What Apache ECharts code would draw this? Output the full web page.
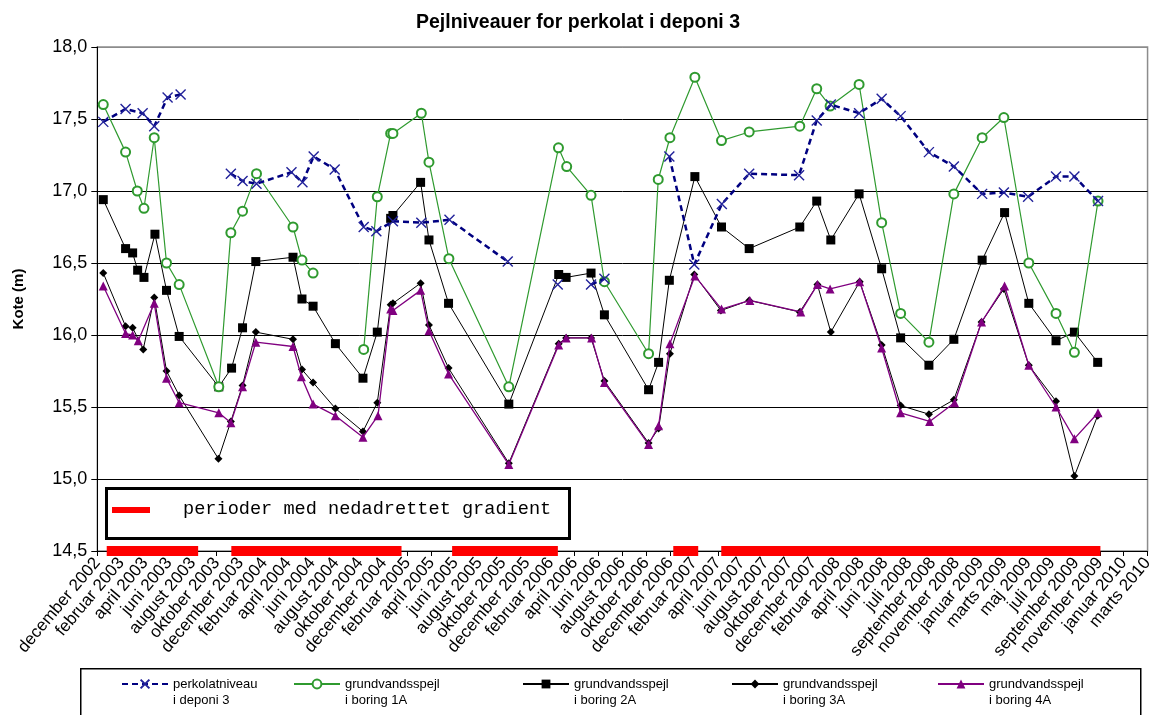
<!DOCTYPE html>
<html>
<head>
<meta charset="utf-8">
<script src="https://cdn.jsdelivr.net/npm/echarts@6/dist/echarts.min.js"></script>
<style>html,body{margin:0;padding:0;background:#fff;}#c{width:1156px;height:715px;}</style>
</head>
<body>
<div id="c"></div>
<script>
// Tick labels (one every tick, tick = 2 position units)
const xLabels = ['december 2002','februar 2003','april 2003','juni 2003','august 2003','oktober 2003','december 2003','februar 2004','april 2004','juni 2004','august 2004','oktober 2004','december 2004','februar 2005','april 2005','juni 2005','august 2005','oktober 2005','december 2005','februar 2006','april 2006','juni 2006','august 2006','oktober 2006','december 2006','februar 2007','april 2007','juni 2007','august 2007','oktober 2007','december 2007','februar 2008','april 2008','juni 2008','juli 2008','september 2008','november 2008','januar 2009','marts 2009','maj 2009','juli 2009','september 2009','november 2009','januar 2010','marts 2010'];

// Positions are in months after december 2002 (axis units); null = gap in line
const perkolatX = [0.50,2.37,3.80,4.77,5.89,6.98,9.0,11.19,12.17,13.34,16.27,17.19,18.13,19.89,22.32,23.38,24.77,27.15,29.51,34.39,36.5,38.58,40.0,41.37,42.49,45.0,47.93,50.02,52.33,54.62,58.80,60.28,61.46,63.83,65.72,67.31,69.68,71.77,74.14,75.96,77.99,80.33,81.87,83.85];
const perkolatY = [17.48,17.57,17.54,17.45,17.65,17.67,null,17.12,17.07,17.05,17.13,17.06,17.24,17.15,16.75,16.72,16.79,16.78,16.80,16.51,null,16.35,null,16.35,16.39,null,17.24,16.49,16.91,17.12,17.11,17.49,17.60,17.54,17.64,17.52,17.27,17.17,16.98,16.99,16.96,17.10,17.10,16.93];

const boring1AX = [0.50,2.37,3.35,3.91,4.77,5.80,6.86,10.18,11.19,12.17,13.34,16.40,17.15,18.08,20.0,22.32,23.46,24.58,24.77,27.15,27.79,29.46,34.48,38.64,39.33,41.37,42.49,46.19,47.00,47.98,50.07,52.30,54.62,58.86,60.28,61.40,63.83,65.72,67.31,69.68,71.77,74.14,75.96,78.05,80.33,81.87,83.85];
const boring1AY = [17.60,17.27,17.00,16.88,17.37,16.50,16.35,15.64,16.71,16.86,17.12,16.75,16.52,16.43,null,15.90,16.96,17.40,17.40,17.54,17.20,16.53,15.64,17.30,17.17,16.97,16.37,15.87,17.08,17.37,17.79,17.35,17.41,17.45,17.71,17.59,17.74,16.78,16.15,15.95,16.98,17.37,17.51,16.50,16.15,15.88,16.93];

const boring2AX = [0.50,2.37,2.96,3.38,3.91,4.83,5.80,6.86,10.18,11.25,12.17,13.28,16.40,17.15,18.08,19.95,22.26,23.46,24.58,24.77,27.09,27.79,29.43,34.48,38.66,39.28,41.37,42.49,46.19,47.03,47.93,50.07,52.30,54.62,58.86,60.28,61.46,63.83,65.72,67.31,69.68,71.77,74.14,76.02,78.05,80.33,81.87,83.82];
const boring2AY = [16.94,16.60,16.57,16.45,16.40,16.70,16.31,15.99,15.64,15.77,16.05,16.51,16.54,16.25,16.20,15.94,15.70,16.02,16.81,16.83,17.06,16.66,16.22,15.52,16.42,16.40,16.43,16.14,15.62,15.81,16.38,17.10,16.75,16.60,16.75,16.93,16.66,16.98,16.46,15.98,15.79,15.97,16.52,16.85,16.22,15.96,16.02,15.81];

const boring3AX = [0.50,2.37,2.96,3.85,4.77,5.80,6.86,10.15,11.19,12.17,13.28,16.40,17.15,18.08,19.95,22.26,23.46,24.58,24.77,27.09,27.79,29.43,34.48,38.66,39.28,41.37,42.49,46.19,47.03,47.98,50.02,52.25,54.62,58.86,60.34,61.46,63.88,65.72,67.31,69.68,71.77,74.09,75.96,78.05,80.33,81.87,83.82];
const boring3AY = [16.43,16.06,16.05,15.90,16.26,15.75,15.58,15.14,15.40,15.65,16.02,15.97,15.76,15.67,15.49,15.33,15.53,16.21,16.22,16.36,16.07,15.77,15.11,15.94,15.98,15.98,15.68,15.25,15.35,15.87,16.42,16.17,16.24,16.16,16.35,16.02,16.37,15.93,15.51,15.45,15.55,16.09,16.32,15.79,15.54,15.02,15.44];

const boring4AX = [0.50,2.37,2.96,3.43,4.77,5.80,6.86,10.18,11.19,12.17,13.28,16.40,17.10,18.08,19.95,22.26,23.52,24.58,24.77,27.09,27.79,29.43,34.48,38.66,39.28,41.42,42.49,46.19,47.03,47.98,50.07,52.30,54.68,58.94,60.34,61.40,63.88,65.72,67.31,69.74,71.83,74.09,76.02,78.05,80.33,81.87,83.85];
const boring4AY = [16.34,16.01,16.00,15.96,16.22,15.70,15.53,15.46,15.39,15.64,15.95,15.92,15.71,15.52,15.44,15.29,15.44,16.18,16.17,16.31,16.03,15.73,15.10,15.93,15.98,15.98,15.67,15.24,15.37,15.94,16.41,16.18,16.24,16.16,16.35,16.32,16.37,15.91,15.46,15.40,15.53,16.09,16.34,15.79,15.50,15.28,15.46];

// Periods with downward gradient (start / end positions)
const gradientStart = [0.79,11.23,29.73,48.26,52.28];
const gradientEnd = [8.45,25.49,38.59,50.35,84.05];
const gradientLevel = 14.5;

const seriesNames = ['perkolatniveau\ni deponi 3','grundvandsspejl\ni boring 1A','grundvandsspejl\ni boring 2A','grundvandsspejl\ni boring 3A','grundvandsspejl\ni boring 4A'];

function pairs(xs, ys){ return xs.map((x,i)=>[x, ys[i] === null ? '-' : ys[i]]); }
const gradData = [];
gradientStart.forEach((s,i)=>{ gradData.push([s,gradientLevel]); gradData.push([gradientEnd[i],gradientLevel]); gradData.push([gradientEnd[i],'-']); });

const FONT = "'Liberation Sans', Arial, sans-serif";
const crossPath = 'path://M0,0L10,10M10,0L0,10';

const chart = echarts.init(document.getElementById('c'), null, {renderer:'canvas'});
const legendLefts = [121, 293, 522, 731, 937];
const option = {
  animation: false,
  backgroundColor: '#fff',
  title: { text: 'Pejlniveauer for perkolat i deponi 3', left: 'center', top: 8,
    textStyle: { fontFamily: FONT, fontSize: 19.5, fontWeight: 'bold', color: '#000' } },
  grid: { left: 97.3, right: 6.7, top: 47, bottom: 164, show: true, borderColor: '#8c8c8c', borderWidth: 1.5, backgroundColor: '#fff' },
  legend: seriesNames.map((n,i)=>({
    data: [n], left: legendLefts[i], top: 660, padding: 0, itemWidth: 46, itemHeight: 11, itemGap: 5,
    formatter: name => ' \n' + name,
    textStyle: { fontFamily: FONT, fontSize: 13, color: '#000', lineHeight: 16 },
    selectedMode: false
  })),
  xAxis: {
    type: 'value', min: 0, max: 88, interval: 2,
    axisLine: { lineStyle: { color: '#000', width: 1 } },
    axisTick: { show: true, length: 5, lineStyle: { color: '#000' } },
    splitLine: { show: false },
    axisLabel: { rotate: 50, margin: 9, fontFamily: FONT, fontSize: 17, color: '#000',
      formatter: v => xLabels[Math.round(v/2)] || '' }
  },
  yAxis: {
    type: 'value', min: 14.5, max: 18, interval: 0.5,
    name: 'Kote (m)', nameLocation: 'middle', nameGap: 71,
    nameTextStyle: { fontFamily: FONT, fontSize: 15, fontWeight: 'bold', color: '#000' },
    axisLine: { show: true, lineStyle: { color: '#000', width: 1 } },
    axisTick: { show: true, length: 6, lineStyle: { color: '#000' } },
    splitLine: { show: true, lineStyle: { color: ['#000','#000','#000','#000','#000','#000','#000','#8c8c8c'], width: 1 } },
    axisLabel: { margin: 10, fontFamily: FONT, fontSize: 18, color: '#000',
      formatter: v => v.toFixed(1).replace('.', ',') }
  },
  graphic: [
    { type: 'rect', left: 80, top: 668, shape: { width: 1060, height: 60 }, style: { fill: '#fff', stroke: '#000', lineWidth: 1.5 }, z: -1 },
    { type: 'rect', left: 105, top: 487, shape: { width: 463, height: 50 }, style: { fill: '#fff', stroke: '#000', lineWidth: 3 }, z: 10 },
    { type: 'line', shape: { x1: 112, y1: 510, x2: 150, y2: 510 }, style: { stroke: '#ff0000', lineWidth: 6 }, z: 11 },
    { type: 'text', left: 183, top: 500, style: { text: 'perioder med nedadrettet gradient', font: "18.6px 'Liberation Mono', 'Courier New', monospace", fill: '#000' }, z: 11 }
  ],
  series: [
    { name: seriesNames[0], type: 'line', data: pairs(perkolatX, perkolatY), symbol: crossPath, symbolSize: 10,
      lineStyle: { color: '#000080', width: 2.5, type: [6,4] },
      itemStyle: { color: '#000080', borderColor: '#22229a', borderWidth: 1.4 }, z: 5 },
    { name: seriesNames[1], type: 'line', data: pairs(boring1AX, boring1AY), symbol: 'emptyCircle', symbolSize: 9,
      lineStyle: { color: '#2f9a2f', width: 1.2 },
      itemStyle: { color: '#2f9a2f', borderColor: '#2f9a2f', borderWidth: 1.2 }, z: 4 },
    { name: seriesNames[2], type: 'line', data: pairs(boring2AX, boring2AY), symbol: 'rect', symbolSize: 9,
      lineStyle: { color: '#000', width: 1 },
      itemStyle: { color: '#000', borderWidth: 0 }, z: 3 },
    { name: seriesNames[3], type: 'line', data: pairs(boring3AX, boring3AY), symbol: 'diamond', symbolSize: 8,
      lineStyle: { color: '#000', width: 1 },
      itemStyle: { color: '#000', borderWidth: 0 }, z: 3 },
    { name: seriesNames[4], type: 'line', data: pairs(boring4AX, boring4AY), symbol: 'triangle', symbolSize: 9,
      lineStyle: { color: '#800080', width: 1.3 },
      itemStyle: { color: '#800080', borderWidth: 0 }, z: 4 },
    { name: 'gradient', type: 'line', data: gradData, symbol: 'none', clip: false, silent: true,
      lineStyle: { color: '#ff0000', width: 10, cap: 'butt' }, z: 6 }
  ]
};
chart.setOption(option);
</script>
</body>
</html>
